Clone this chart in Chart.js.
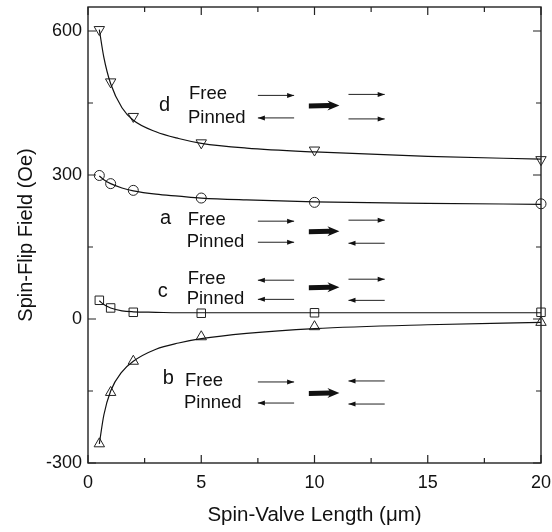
<!DOCTYPE html>
<html>
<head>
<meta charset="utf-8">
<script src="https://cdn.jsdelivr.net/npm/chart.js@4"></script>
<style>
  html, body { margin: 0; padding: 0; background: #fff; }
  #wrap { width: 552px; height: 532px; }
</style>
</head>
<body>
<div id="wrap"><canvas id="miGrafico" width="552" height="532"></canvas></div>
<script>
// measured points
let len_x = [0.5, 1, 2, 5, 10, 20];
let pts_d = [603, 494, 422, 367, 352, 332];
let pts_a = [299, 282, 268, 252, 243, 240];
let pts_c = [39, 23, 14, 12, 13, 14];
let pts_b = [-260, -153, -88, -37, -16, -7];

// fitted curves
let fit_x = [0.5, 0.7, 1, 1.5, 2, 3, 4, 5, 7, 10, 15, 20];
let fit_d = [603, 545, 490, 440, 414, 390, 376, 366, 356, 348, 339, 333];
let fit_a = [298, 290, 282, 273, 267, 260, 256, 252, 248, 244, 241, 239];
let fit_c = [38, 30, 23, 17, 15, 14, 13, 13, 13, 13, 13, 13];
let fit_b = [-260, -200, -150, -110, -88, -63, -50, -41, -30, -20, -12, -7];

let y_ticks = [-300, 0, 300, 600];

// annotation blocks: letter, rows, arrow directions (left arrow, right arrow)
let notes = [
  {lbl: 'd', ly: 445, freeY: 470, pinY: 421, tx: 4.46, lx: 3.35, free: [1, 1], pin: [-1, 1], big: 445},
  {lbl: 'a', ly: 210, freeY: 208, pinY: 162, tx: 4.4, lx: 3.4, free: [1, 1], pin: [1, -1], big: 183},
  {lbl: 'c', ly: 57, freeY: 85, pinY: 43, tx: 4.4, lx: 3.3, free: [-1, 1], pin: [-1, -1], big: 66},
  {lbl: 'b', ly: -123, freeY: -127, pinY: -173, tx: 4.28, lx: 3.52, free: [1, -1], pin: [-1, -1], big: -154}
];

function xy(xs, ys) { return xs.map((v, i) => ({x: v, y: ys[i]})); }

const FONT = '"Liberation Sans", Arial, sans-serif';

function arrow(ctx, x1, x2, y, dir) {
  let a = dir > 0 ? x1 : x2, b = dir > 0 ? x2 : x1;
  ctx.beginPath();
  ctx.moveTo(a, y); ctx.lineTo(b, y);
  ctx.lineWidth = 1; ctx.stroke();
  ctx.beginPath();
  ctx.moveTo(b, y);
  ctx.lineTo(b - dir * 7, y - 2.5);
  ctx.lineTo(b - dir * 7, y + 2.5);
  ctx.closePath(); ctx.fill();
}

function bigArrow(ctx, x1, x2, y) {
  ctx.beginPath();
  ctx.moveTo(x1, y - 2);
  ctx.lineTo(x2 - 10, y - 2.5);
  ctx.lineTo(x2 - 12, y - 5);
  ctx.lineTo(x2, y);
  ctx.lineTo(x2 - 12, y + 5);
  ctx.lineTo(x2 - 10, y + 2.5);
  ctx.lineTo(x1, y + 3);
  ctx.closePath(); ctx.fill();
}

const decor = {
  id: 'decor',
  afterDatasetsDraw(chart) {
    const ctx = chart.ctx, xs = chart.scales.x, ys = chart.scales.y, ca = chart.chartArea;
    ctx.save();
    ctx.strokeStyle = '#222'; ctx.fillStyle = '#111';
    // frame
    ctx.lineWidth = 1.4;
    ctx.strokeRect(ca.left, ca.top, ca.right - ca.left, ca.bottom - ca.top);
    // inward ticks
    ctx.lineWidth = 1.2;
    for (let v = 0; v <= 20; v += 2.5) {
      let p = xs.getPixelForValue(v), L = v % 5 === 0 ? 8 : 5;
      ctx.beginPath();
      ctx.moveTo(p, ca.bottom); ctx.lineTo(p, ca.bottom - L);
      ctx.moveTo(p, ca.top); ctx.lineTo(p, ca.top + L);
      ctx.stroke();
    }
    for (let v = -300; v <= 600; v += 150) {
      let p = ys.getPixelForValue(v), L = v % 300 === 0 ? 8 : 5;
      ctx.beginPath();
      ctx.moveTo(ca.left, p); ctx.lineTo(ca.left + L, p);
      ctx.moveTo(ca.right, p); ctx.lineTo(ca.right - L, p);
      ctx.stroke();
    }
    // annotations
    ctx.textBaseline = 'middle';
    ctx.textAlign = 'left';
    notes.forEach(n => {
      ctx.fillStyle = '#111';
      ctx.font = '20px ' + FONT;
      ctx.fillText(n.lbl, xs.getPixelForValue(n.lx) - 5, ys.getPixelForValue(n.ly));
      ctx.font = '18.5px ' + FONT;
      ctx.fillText('Free', xs.getPixelForValue(n.tx), ys.getPixelForValue(n.freeY) + 1);
      ctx.fillText('Pinned', xs.getPixelForValue(n.tx) - 1, ys.getPixelForValue(n.pinY) + 1);
      let fy = ys.getPixelForValue(n.freeY) + 2, py = ys.getPixelForValue(n.pinY) + 1;
      let l1 = xs.getPixelForValue(7.5), l2 = xs.getPixelForValue(9.1);
      let r1 = xs.getPixelForValue(11.5), r2 = xs.getPixelForValue(13.1);
      arrow(ctx, l1, l2, fy, n.free[0]);
      arrow(ctx, l1, l2, py, n.pin[0]);
      arrow(ctx, r1, r2, fy - 1, n.free[1]);
      arrow(ctx, r1, r2, py + 1, n.pin[1]);
      bigArrow(ctx, xs.getPixelForValue(9.75), xs.getPixelForValue(11.1), ys.getPixelForValue(n.big));
    });
    ctx.restore();
  }
};

function curve(data) {
  return {data: data, showLine: true, borderColor: '#111', borderWidth: 1.2,
    pointRadius: 0, cubicInterpolationMode: 'monotone', fill: false};
}
function marks(data, style, r, rot) {
  return {data: data, showLine: false, pointStyle: style, pointRadius: r, pointRotation: rot || 0,
    borderColor: '#222', borderWidth: 1, backgroundColor: '#fff'};
}

const ctx = document.getElementById('miGrafico').getContext('2d');
const miGrafico = new Chart(ctx, {
  type: 'scatter',
  data: {
    datasets: [
      curve(xy(fit_x, fit_d)),
      curve(xy(fit_x, fit_a)),
      curve(xy(fit_x, fit_c)),
      curve(xy(fit_x, fit_b)),
      marks(xy(len_x, pts_d), 'triangle', 6, 180),
      marks(xy(len_x, pts_a), 'circle', 5),
      marks(xy(len_x, pts_c), 'rect', 6),
      marks(xy(len_x, pts_b), 'triangle', 6)
    ]
  },
  options: {
    responsive: false,
    animation: false,
    clip: false,
    layout: {padding: {top: 7, right: 11, left: 0, bottom: 0}},
    plugins: {legend: {display: false}, tooltip: {enabled: false}},
    scales: {
      x: {
        type: 'linear', min: 0, max: 20,
        grid: {display: false, drawTicks: false},
        border: {display: false},
        ticks: {stepSize: 5, padding: 9, color: '#111', font: {family: FONT, size: 18}},
        title: {display: true, text: 'Spin-Valve Length (μm)', color: '#111',
          font: {family: FONT, size: 20.5}, padding: {top: 10}},
        afterFit(s) { s.height = 69; s.paddingLeft = 0; s.paddingRight = 0; }
      },
      y: {
        type: 'linear', min: -300, max: 650,
        grid: {display: false, drawTicks: false},
        border: {display: false},
        ticks: {stepSize: 300, padding: 6, color: '#111', font: {family: FONT, size: 18}},
        afterBuildTicks(s) { s.ticks = y_ticks.map(v => ({value: v})); },
        title: {display: true, text: 'Spin-Flip Field (Oe)', color: '#111',
          font: {family: FONT, size: 20}, padding: {top: 14, bottom: 4}},
        afterFit(s) { s.width = 88; s.paddingTop = 0; s.paddingBottom = 0; }
      }
    }
  },
  plugins: [decor]
});
</script>
</body>
</html>
